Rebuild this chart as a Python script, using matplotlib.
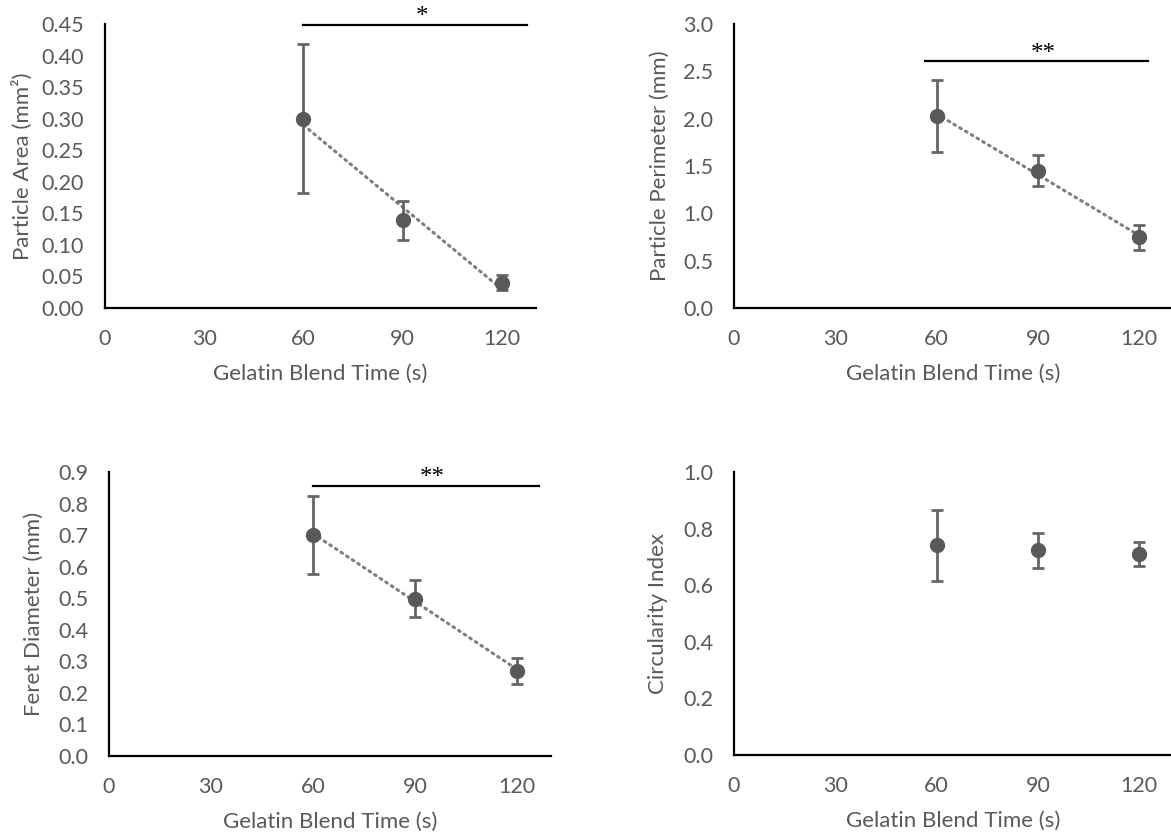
import numpy as np
import matplotlib
matplotlib.use("Agg")
import matplotlib.pyplot as plt
from matplotlib.ticker import FormatStrFormatter

# ---- data ----
blend_time = [60, 90, 120]
x_ticks = [0, 30, 60, 90, 120]

area_mean = [0.300, 0.139, 0.040]
area_err = [0.118, 0.031, 0.012]

perim_mean = [2.03, 1.45, 0.745]
perim_err = [0.38, 0.165, 0.13]

feret_mean = [0.700, 0.499, 0.270]
feret_err = [0.123, 0.058, 0.041]

circ_mean = [0.741, 0.723, 0.710]
circ_err = [0.125, 0.062, 0.041]

y_labels = ["Particle Area (mm²)", "Particle Perimeter (mm)",
            "Feret Diameter (mm)", "Circularity Index"]
x_label = "Gelatin Blend Time (s)"

# significance bars: (x_start, x_end, y, label)
sig_area = (60, 127.6, 0.449, "*")
sig_perim = (56.5, 122.7, 2.61, "**")
sig_feret = (60, 126.4, 0.857, "**")

plt.rcParams['font.family'] = ['Lato', 'DejaVu Sans']
GRAY = '#595959'
W, H = 1171, 840
fig = plt.figure(figsize=(W / 100, H / 100), dpi=100)

panels = [
    dict(l=105, b=308, t=24, r=536, xmax=130.3, ymax=0.45, ystep=0.05, fmt='%.2f',
         mean=area_mean, err=area_err, ylabel=y_labels[0], sig=sig_area, trend=True, yl=83),
    dict(l=734, b=308, t=24, r=1173, xmax=130.0, ymax=3.0, ystep=0.5, fmt='%.1f',
         mean=perim_mean, err=perim_err, ylabel=y_labels[1], sig=sig_perim, trend=True, yl=74),
    dict(l=109, b=756, t=472, r=551, xmax=130.0, ymax=0.9, ystep=0.1, fmt='%.1f',
         mean=feret_mean, err=feret_err, ylabel=y_labels[2], sig=sig_feret, trend=True, yl=75),
    dict(l=734, b=755, t=472, r=1173, xmax=130.0, ymax=1.0, ystep=0.2, fmt='%.1f',
         mean=circ_mean, err=circ_err, ylabel=y_labels[3], sig=None, trend=False, yl=76),
]

for p in panels:
    wpx = p['r'] - p['l']
    hpx = p['b'] - p['t']
    ax = fig.add_axes([p['l'] / W, 1 - p['b'] / H, wpx / W, hpx / H])
    ax.set_xlim(0, p['xmax'])
    ax.set_ylim(0, p['ymax'])
    for s in ['top', 'right']:
        ax.spines[s].set_visible(False)
    for s in ['left', 'bottom']:
        ax.spines[s].set_color('black')
        ax.spines[s].set_linewidth(1.6)
    ax.set_xticks(x_ticks)
    ax.set_yticks(np.round(np.arange(0, p['ymax'] + 1e-9, p['ystep']), 3))
    ax.yaxis.set_major_formatter(FormatStrFormatter(p['fmt']))
    ax.tick_params(axis='both', length=0, labelsize=15.5, labelcolor=GRAY)
    ax.tick_params(axis='x', pad=15)
    ax.tick_params(axis='y', pad=15)

    if p['trend']:
        coef = np.polyfit(blend_time, p['mean'], 1)
        xt = np.array([blend_time[0], blend_time[-1]])
        ax.plot(xt, np.polyval(coef, xt), linestyle=(0, (0.6, 1.6)), color='#7f7f7f',
                linewidth=2.2, dash_capstyle='round', zorder=2)

    ax.errorbar(blend_time, p['mean'], yerr=p['err'], fmt='o', color=GRAY,
                ecolor='#666666', elinewidth=2.0, capsize=4, capthick=2.0,
                markersize=10, zorder=3, clip_on=False)

    if p['sig'] is not None:
        x0, x1, yv, lab = p['sig']
        ax.plot([x0, x1], [yv, yv], color='black', linewidth=1.6, clip_on=False, zorder=4)
        ax.text((x0 + x1) / 2 + 2, yv + p['ymax'] * 0.004, lab, ha='center', va='baseline',
                fontsize=18, family=['Liberation Serif'], color='black', clip_on=False)

    ax.set_xlabel(x_label, fontsize=16, color=GRAY)
    ax.xaxis.label.set_va('center')
    ax.xaxis.set_label_coords(65 / p['xmax'], -66 / hpx)
    ax.set_ylabel(p['ylabel'], fontsize=16, color=GRAY)
    ax.yaxis.label.set_va('center')
    ax.yaxis.set_label_coords(-p['yl'] / wpx, 0.5)

fig.savefig('out.png', dpi=100)
